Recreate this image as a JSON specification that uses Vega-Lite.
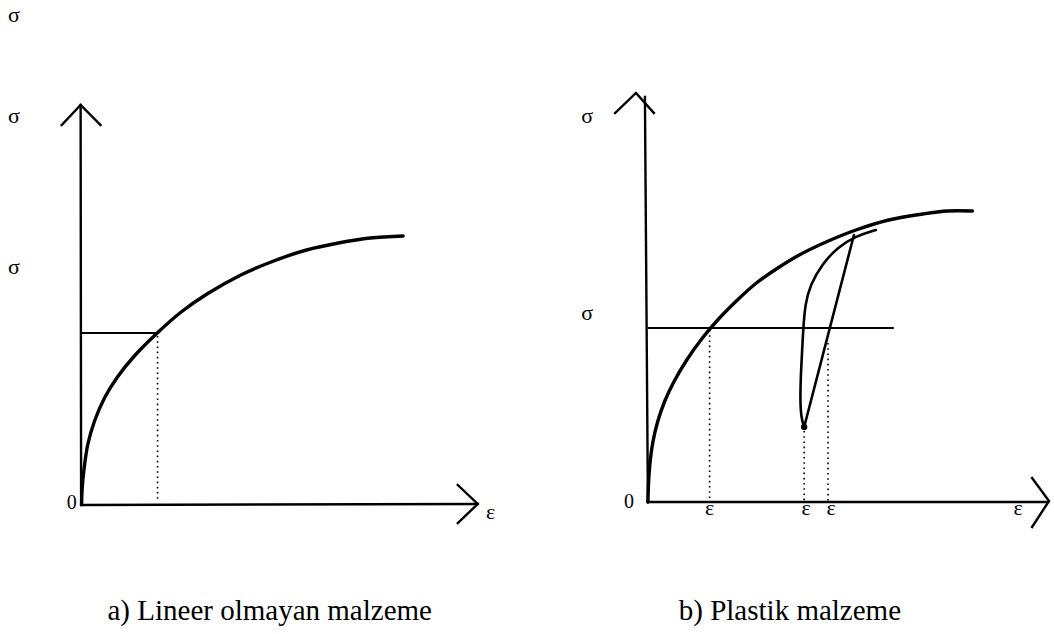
{
  "$schema": "https://vega.github.io/schema/vega-lite/v6.json",
  "width": 1054,
  "height": 634,
  "autosize": {"type": "fit", "contains": "padding"},
  "padding": 0,
  "background": "white",
  "config": {"view": {"stroke": null}, "text": {"font": "Liberation Serif"}},
  "datasets": {
    "strokes": [
      {"path": "a_curve", "kind": "curve", "i": 0, "x": 82, "y": 130},
      {"path": "a_curve", "kind": "curve", "i": 1, "x": 82.6, "y": 146},
      {"path": "a_curve", "kind": "curve", "i": 2, "x": 84.3, "y": 164},
      {"path": "a_curve", "kind": "curve", "i": 3, "x": 88.3, "y": 190},
      {"path": "a_curve", "kind": "curve", "i": 4, "x": 95, "y": 213},
      {"path": "a_curve", "kind": "curve", "i": 5, "x": 105, "y": 236},
      {"path": "a_curve", "kind": "curve", "i": 6, "x": 118, "y": 257},
      {"path": "a_curve", "kind": "curve", "i": 7, "x": 135, "y": 278},
      {"path": "a_curve", "kind": "curve", "i": 8, "x": 158, "y": 301},
      {"path": "a_curve", "kind": "curve", "i": 9, "x": 182, "y": 322},
      {"path": "a_curve", "kind": "curve", "i": 10, "x": 208, "y": 340},
      {"path": "a_curve", "kind": "curve", "i": 11, "x": 242, "y": 359},
      {"path": "a_curve", "kind": "curve", "i": 12, "x": 275, "y": 373},
      {"path": "a_curve", "kind": "curve", "i": 13, "x": 308, "y": 384},
      {"path": "a_curve", "kind": "curve", "i": 14, "x": 340, "y": 391},
      {"path": "a_curve", "kind": "curve", "i": 15, "x": 372, "y": 396},
      {"path": "a_curve", "kind": "curve", "i": 16, "x": 405, "y": 398},

      {"path": "b_curve", "kind": "curve", "i": 0, "x": 651, "y": 132},
      {"path": "b_curve", "kind": "curve", "i": 1, "x": 651.6, "y": 150},
      {"path": "b_curve", "kind": "curve", "i": 2, "x": 653, "y": 170},
      {"path": "b_curve", "kind": "curve", "i": 3, "x": 656, "y": 192},
      {"path": "b_curve", "kind": "curve", "i": 4, "x": 661, "y": 213},
      {"path": "b_curve", "kind": "curve", "i": 5, "x": 668, "y": 233},
      {"path": "b_curve", "kind": "curve", "i": 6, "x": 677, "y": 252},
      {"path": "b_curve", "kind": "curve", "i": 7, "x": 690, "y": 274},
      {"path": "b_curve", "kind": "curve", "i": 8, "x": 705, "y": 295},
      {"path": "b_curve", "kind": "curve", "i": 9, "x": 722, "y": 315},
      {"path": "b_curve", "kind": "curve", "i": 10, "x": 742, "y": 335},
      {"path": "b_curve", "kind": "curve", "i": 11, "x": 760, "y": 351},
      {"path": "b_curve", "kind": "curve", "i": 12, "x": 780, "y": 365},
      {"path": "b_curve", "kind": "curve", "i": 13, "x": 803, "y": 379},
      {"path": "b_curve", "kind": "curve", "i": 14, "x": 830, "y": 392},
      {"path": "b_curve", "kind": "curve", "i": 15, "x": 860, "y": 404},
      {"path": "b_curve", "kind": "curve", "i": 16, "x": 893, "y": 414},
      {"path": "b_curve", "kind": "curve", "i": 17, "x": 927, "y": 420},
      {"path": "b_curve", "kind": "curve", "i": 18, "x": 952, "y": 423},
      {"path": "b_curve", "kind": "curve", "i": 19, "x": 977, "y": 423},

      {"path": "a_yaxis", "kind": "axis", "i": 0, "x": 81.5, "y": 129},
      {"path": "a_yaxis", "kind": "axis", "i": 1, "x": 81, "y": 529},
      {"path": "a_yhead", "kind": "axis", "i": 0, "x": 62, "y": 509},
      {"path": "a_yhead", "kind": "axis", "i": 1, "x": 81, "y": 529},
      {"path": "a_yhead", "kind": "axis", "i": 2, "x": 101, "y": 509},
      {"path": "a_xaxis", "kind": "axis", "i": 0, "x": 81.5, "y": 129},
      {"path": "a_xaxis", "kind": "axis", "i": 1, "x": 480, "y": 130},
      {"path": "a_xhead", "kind": "axis", "i": 0, "x": 460, "y": 149},
      {"path": "a_xhead", "kind": "axis", "i": 1, "x": 480, "y": 130},
      {"path": "a_xhead", "kind": "axis", "i": 2, "x": 460, "y": 111},

      {"path": "b_yaxis", "kind": "axis", "i": 0, "x": 651, "y": 132},
      {"path": "b_yaxis", "kind": "axis", "i": 1, "x": 648, "y": 537},
      {"path": "b_yhead", "kind": "axis", "i": 0, "x": 618, "y": 521},
      {"path": "b_yhead", "kind": "axis", "i": 1, "x": 639, "y": 541},
      {"path": "b_yhead", "kind": "axis", "i": 2, "x": 657, "y": 521},
      {"path": "b_xaxis", "kind": "axis", "i": 0, "x": 651, "y": 132},
      {"path": "b_xaxis", "kind": "axis", "i": 1, "x": 1053, "y": 132},
      {"path": "b_xhead", "kind": "axis", "i": 0, "x": 1037, "y": 156},
      {"path": "b_xhead", "kind": "axis", "i": 1, "x": 1054, "y": 133},
      {"path": "b_xhead", "kind": "axis", "i": 2, "x": 1037, "y": 107},

      {"path": "a_level", "kind": "thin", "i": 0, "x": 81, "y": 301},
      {"path": "a_level", "kind": "thin", "i": 1, "x": 158, "y": 301},
      {"path": "b_level", "kind": "thin", "i": 0, "x": 651, "y": 306},
      {"path": "b_level", "kind": "thin", "i": 1, "x": 898, "y": 306},

      {"path": "b_unload", "kind": "cycle", "i": 0, "x": 858, "y": 399},
      {"path": "b_unload", "kind": "cycle", "i": 1, "x": 808, "y": 207},

      {"path": "b_reload", "kind": "reload", "i": 0, "x": 808, "y": 207},
      {"path": "b_reload", "kind": "reload", "i": 1, "x": 805, "y": 216},
      {"path": "b_reload", "kind": "reload", "i": 2, "x": 804, "y": 234},
      {"path": "b_reload", "kind": "reload", "i": 3, "x": 804.5, "y": 256},
      {"path": "b_reload", "kind": "reload", "i": 4, "x": 806, "y": 284},
      {"path": "b_reload", "kind": "reload", "i": 5, "x": 807, "y": 304},
      {"path": "b_reload", "kind": "reload", "i": 6, "x": 809, "y": 330},
      {"path": "b_reload", "kind": "reload", "i": 7, "x": 814, "y": 349},
      {"path": "b_reload", "kind": "reload", "i": 8, "x": 826, "y": 370},
      {"path": "b_reload", "kind": "reload", "i": 9, "x": 842, "y": 387},
      {"path": "b_reload", "kind": "reload", "i": 10, "x": 860, "y": 398},
      {"path": "b_reload", "kind": "reload", "i": 11, "x": 880, "y": 404},

      {"path": "a_drop", "kind": "dotted", "i": 0, "x": 158.3, "y": 298},
      {"path": "a_drop", "kind": "dotted", "i": 1, "x": 158.3, "y": 133},
      {"path": "b_drop1", "kind": "dotted", "i": 0, "x": 713, "y": 304},
      {"path": "b_drop1", "kind": "dotted", "i": 1, "x": 713, "y": 133},
      {"path": "b_drop2", "kind": "dotted", "i": 0, "x": 808, "y": 203},
      {"path": "b_drop2", "kind": "dotted", "i": 1, "x": 808, "y": 133},
      {"path": "b_drop3", "kind": "dotted", "i": 0, "x": 832, "y": 291},
      {"path": "b_drop3", "kind": "dotted", "i": 1, "x": 832, "y": 133}
    ],
    "points": [
      {"x": 808, "y": 207}
    ],
    "labels": [
      {"text": "σ", "role": "sym", "x": 14, "y": 619},
      {"text": "σ", "role": "sym", "x": 14, "y": 518},
      {"text": "σ", "role": "sym", "x": 14, "y": 367},
      {"text": "σ", "role": "sym", "x": 590, "y": 518},
      {"text": "σ", "role": "sym", "x": 590, "y": 321},
      {"text": "0", "role": "zero", "x": 72, "y": 131},
      {"text": "0", "role": "zero", "x": 632, "y": 132},
      {"text": "ε", "role": "sym", "x": 493, "y": 122},
      {"text": "ε", "role": "sym", "x": 713, "y": 126},
      {"text": "ε", "role": "sym", "x": 810, "y": 126},
      {"text": "ε", "role": "sym", "x": 835, "y": 126},
      {"text": "ε", "role": "sym", "x": 1023, "y": 126},
      {"text": "a) Lineer olmayan malzeme", "role": "title", "x": 108, "y": 14},
      {"text": "b) Plastik malzeme", "role": "title", "x": 682, "y": 14}
    ]
  },
  "encoding": {
    "x": {"field": "x", "type": "quantitative", "axis": null,
          "scale": {"domain": [0, 1054], "nice": false, "zero": false}},
    "y": {"field": "y", "type": "quantitative", "axis": null,
          "scale": {"domain": [0, 634], "nice": false, "zero": false}}
  },
  "layer": [
    {
      "data": {"name": "strokes"},
      "transform": [{"filter": "datum.kind === 'axis'"}],
      "mark": {"type": "line", "color": "black", "strokeWidth": 2.4, "strokeJoin": "miter", "strokeCap": "square"},
      "encoding": {"detail": {"field": "path"}, "order": {"field": "i", "type": "quantitative"}}
    },
    {
      "data": {"name": "strokes"},
      "transform": [{"filter": "datum.kind === 'thin'"}],
      "mark": {"type": "line", "color": "black", "strokeWidth": 2},
      "encoding": {"detail": {"field": "path"}, "order": {"field": "i", "type": "quantitative"}}
    },
    {
      "data": {"name": "strokes"},
      "transform": [{"filter": "datum.kind === 'dotted'"}],
      "mark": {"type": "line", "color": "black", "strokeWidth": 1.6, "strokeDash": [1.6, 3.6]},
      "encoding": {"detail": {"field": "path"}, "order": {"field": "i", "type": "quantitative"}}
    },
    {
      "data": {"name": "strokes"},
      "transform": [{"filter": "datum.kind === 'curve'"}],
      "mark": {"type": "line", "color": "black", "strokeWidth": 3.4, "interpolate": "catmull-rom", "strokeCap": "round"},
      "encoding": {"detail": {"field": "path"}, "order": {"field": "i", "type": "quantitative"}}
    },
    {
      "data": {"name": "strokes"},
      "transform": [{"filter": "datum.kind === 'cycle'"}],
      "mark": {"type": "line", "color": "black", "strokeWidth": 2.6, "strokeCap": "round"},
      "encoding": {"detail": {"field": "path"}, "order": {"field": "i", "type": "quantitative"}}
    },
    {
      "data": {"name": "strokes"},
      "transform": [{"filter": "datum.kind === 'reload'"}],
      "mark": {"type": "line", "color": "black", "strokeWidth": 2.6, "interpolate": "basis", "strokeCap": "round"},
      "encoding": {"detail": {"field": "path"}, "order": {"field": "i", "type": "quantitative"}}
    },
    {
      "data": {"name": "points"},
      "mark": {"type": "point", "filled": true, "color": "black", "size": 40, "opacity": 1}
    },
    {
      "data": {"name": "labels"},
      "transform": [{"filter": "datum.role === 'sym'"}],
      "mark": {"type": "text", "font": "Liberation Serif", "fontSize": 22, "color": "black", "align": "center", "baseline": "middle"},
      "encoding": {"text": {"field": "text"}}
    },
    {
      "data": {"name": "labels"},
      "transform": [{"filter": "datum.role === 'zero'"}],
      "mark": {"type": "text", "font": "Liberation Serif", "fontSize": 20, "color": "black", "align": "center", "baseline": "middle"},
      "encoding": {"text": {"field": "text"}}
    },
    {
      "data": {"name": "labels"},
      "transform": [{"filter": "datum.role === 'title'"}],
      "mark": {"type": "text", "font": "Liberation Serif", "fontSize": 29, "color": "black", "align": "left", "baseline": "alphabetic"},
      "encoding": {"text": {"field": "text"}}
    }
  ]
}
